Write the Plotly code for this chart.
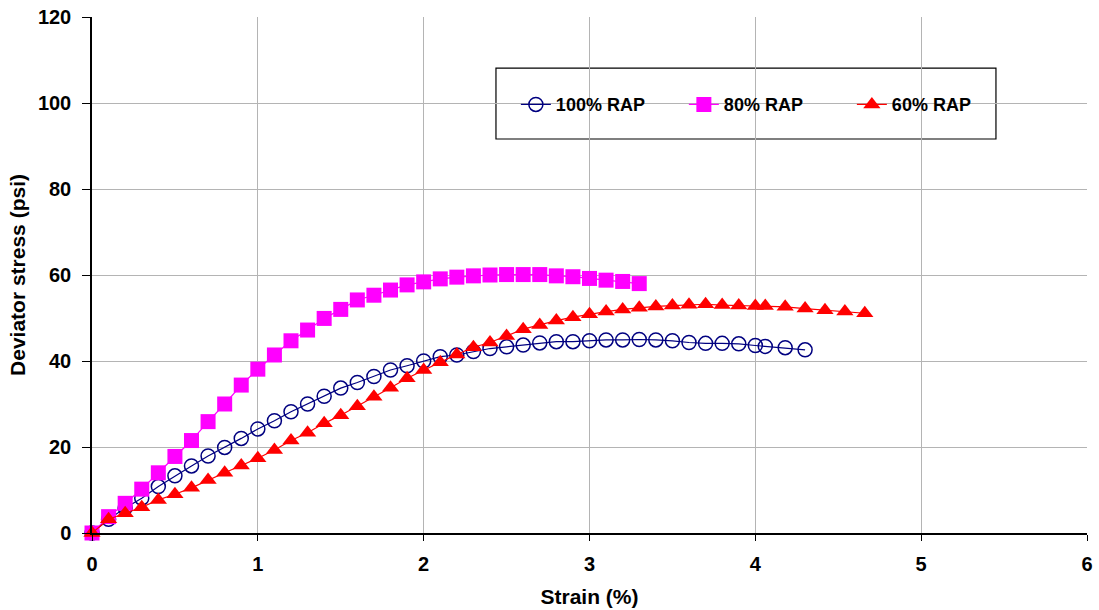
import plotly.graph_objects as go

# Data
strain_100 = [0, 0.1, 0.2, 0.3, 0.4, 0.5, 0.6, 0.7, 0.8, 0.9, 1.0, 1.1, 1.2, 1.3, 1.4, 1.5, 1.6, 1.7, 1.8, 1.9,
              2.0, 2.1, 2.2, 2.3, 2.4, 2.5, 2.6, 2.7, 2.8, 2.9, 3.0, 3.1, 3.2, 3.3, 3.4, 3.5, 3.6, 3.7, 3.8, 3.9,
              4.0, 4.06, 4.18, 4.30]
stress_100 = [0, 3.2, 5.8, 8.1, 10.8, 13.3, 15.6, 17.9, 19.9, 22.0, 24.2, 26.1, 28.2, 30.0, 31.8, 33.7, 35.0, 36.4, 37.9, 38.9,
              40.0, 41.0, 41.4, 42.2, 42.9, 43.3, 43.7, 44.2, 44.5, 44.5, 44.7, 44.9, 44.9, 45.0, 44.9, 44.7, 44.3, 44.1, 44.1, 44.0,
              43.6, 43.4, 43.1, 42.6]

strain_80 = [0, 0.1, 0.2, 0.3, 0.4, 0.5, 0.6, 0.7, 0.8, 0.9, 1.0, 1.1, 1.2, 1.3, 1.4, 1.5, 1.6, 1.7, 1.8, 1.9,
             2.0, 2.1, 2.2, 2.3, 2.4, 2.5, 2.6, 2.7, 2.8, 2.9, 3.0, 3.1, 3.2, 3.3]
stress_80 = [0, 3.8, 6.9, 10.2, 14.0, 17.8, 21.5, 25.9, 30.0, 34.4, 38.1, 41.4, 44.7, 47.2, 49.9, 52.0, 54.2, 55.3, 56.5, 57.7,
             58.4, 59.1, 59.5, 59.8, 60.0, 60.1, 60.1, 60.1, 59.8, 59.6, 59.2, 58.8, 58.5, 58.0]

strain_60 = [0, 0.1, 0.2, 0.3, 0.4, 0.5, 0.6, 0.7, 0.8, 0.9, 1.0, 1.1, 1.2, 1.3, 1.4, 1.5, 1.6, 1.7, 1.8, 1.9,
             2.0, 2.1, 2.2, 2.3, 2.4, 2.5, 2.6, 2.7, 2.8, 2.9, 3.0, 3.1, 3.2, 3.3, 3.4, 3.5, 3.6, 3.7, 3.8, 3.9,
             4.0, 4.06, 4.18, 4.30, 4.42, 4.54, 4.66]
stress_60 = [0, 3.2, 4.6, 6.0, 7.7, 9.0, 10.5, 12.3, 14.0, 15.7, 17.4, 19.3, 21.5, 23.3, 25.5, 27.4, 29.5, 31.7, 33.8, 36.0,
             37.9, 39.7, 41.5, 43.2, 44.3, 45.8, 47.4, 48.4, 49.4, 50.2, 50.9, 51.5, 52.0, 52.4, 52.7, 52.9, 53.1, 53.2, 53.0, 52.9,
             52.8, 52.8, 52.6, 52.2, 51.8, 51.5, 51.1]

series_names = ["100% RAP", "80% RAP", "60% RAP"]
x_ticks = [0, 1, 2, 3, 4, 5, 6]
y_ticks = [0, 20, 40, 60, 80, 100, 120]

FONT = "Liberation Sans, Arial, sans-serif"

fig = go.Figure()
fig.add_trace(go.Scatter(
    x=strain_100, y=stress_100, name=series_names[0], mode="lines+markers",
    line=dict(color="#000080", width=1.2),
    marker=dict(symbol="circle-open", size=14, color="#000080", line=dict(width=1.5, color="#000080")),
))
fig.add_trace(go.Scatter(
    x=strain_80, y=stress_80, name=series_names[1], mode="lines+markers",
    line=dict(color="#FF00FF", width=1.2),
    marker=dict(symbol="square", size=15, color="#FF00FF"),
))
fig.add_trace(go.Scatter(
    x=strain_60, y=stress_60, name=series_names[2], mode="lines+markers",
    line=dict(color="#FF0000", width=1.2),
    marker=dict(symbol="triangle-up", size=15, color="#FF0000"),
))

# legend frame
fig.add_shape(type="rect", xref="paper", yref="paper",
              x0=0.406, x1=0.9085, y0=0.7636, y1=0.901,
              line=dict(color="black", width=1.2), fillcolor="white", layer="below")

fig.update_layout(
    width=1099, height=610,
    margin=dict(l=92, r=12, t=17, b=77, autoexpand=False),
    paper_bgcolor="white", plot_bgcolor="white",
    font=dict(family=FONT, color="black", weight="bold"),
    showlegend=True,
    legend=dict(
        orientation="h", x=0.426, y=0.830, xanchor="left", yanchor="middle",
        bgcolor="rgba(0,0,0,0)", borderwidth=0,
        font=dict(family=FONT, size=18, color="black", weight="bold"),
        entrywidth=123, entrywidthmode="pixels",
    ),
    xaxis=dict(
        range=[0, 6], tickvals=x_ticks, ticktext=[str(v) for v in x_ticks],
        showgrid=True, gridcolor="#b4b4b4", gridwidth=1,
        showline=True, linecolor="black", linewidth=1.5,
        ticks="outside", ticklen=6, tickcolor="black", tickwidth=1.2,
        ticklabelstandoff=6, ticklabeloverflow="allow",
        tickfont=dict(family=FONT, size=20, color="black", weight="bold"),
        title=dict(text="Strain (%)", font=dict(family=FONT, size=21, color="black", weight="bold"), standoff=16),
        zeroline=False,
    ),
    yaxis=dict(
        range=[0, 120], tickvals=y_ticks, ticktext=[str(v) for v in y_ticks],
        showgrid=True, gridcolor="#b4b4b4", gridwidth=1,
        showline=True, linecolor="black", linewidth=1.5,
        ticks="outside", ticklen=8, tickcolor="black", tickwidth=1.2,
        ticklabelstandoff=7, ticklabeloverflow="allow",
        tickfont=dict(family=FONT, size=20, color="black", weight="bold"),
        title=dict(text="Deviator stress (psi)", font=dict(family=FONT, size=21, color="black", weight="bold"), standoff=7),
        zeroline=False,
    ),
)
fig.update_traces(cliponaxis=False)

# remove the default 8px page margin so the 1099x610 figure fills the window exactly
fig.write_html("out.html",
               config={"displayModeBar": False},
               post_script="document.body.style.margin='0';document.body.style.overflow='hidden';")
